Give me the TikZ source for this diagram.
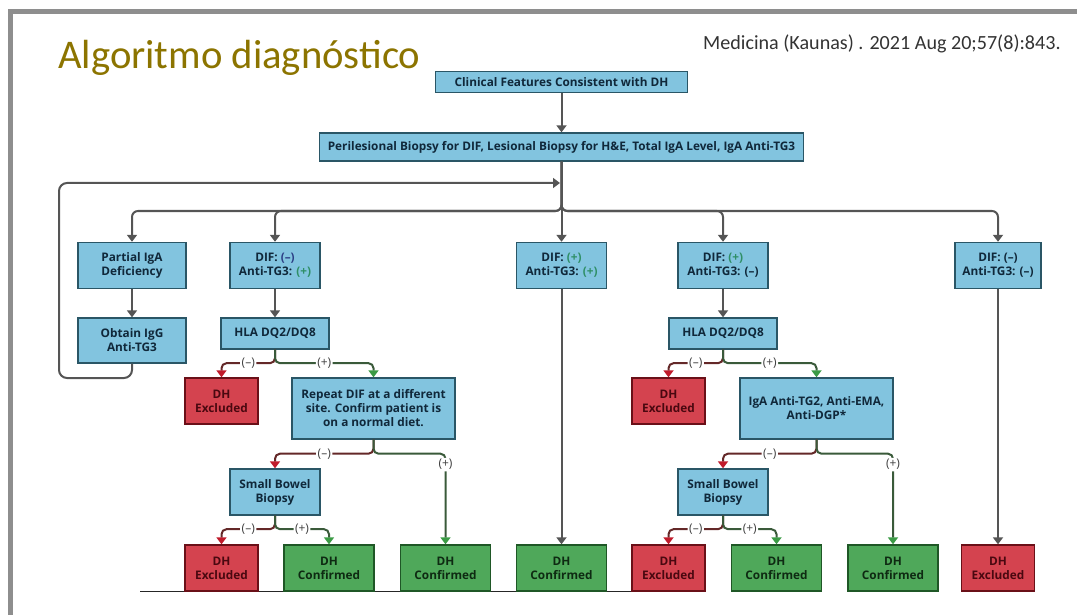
\documentclass[tikz,border=0pt]{standalone}
\usepackage{fontspec}
\setmainfont{Carlito}
\newfontfamily\boxfont{Open Sans}
\usetikzlibrary{arrows.meta, calc}

\definecolor{boxblue}{HTML}{82C4DF}
\definecolor{boxedge}{HTML}{2A5666}
\definecolor{boxtext}{HTML}{10283A}
\definecolor{exclred}{HTML}{D4434F}
\definecolor{excledge}{HTML}{6A1018}
\definecolor{excltext}{HTML}{4A0810}
\definecolor{confgreen}{HTML}{4FA85A}
\definecolor{confedge}{HTML}{1F5726}
\definecolor{conftext}{HTML}{0E2A12}
\definecolor{linegray}{HTML}{555555}
\definecolor{titlegold}{HTML}{8C7400}
\definecolor{framegray}{HTML}{8E8E8E}
\definecolor{tipred}{HTML}{C01B2B}
\definecolor{tipgreen}{HTML}{3B9B45}
\definecolor{minusdark}{HTML}{642828}
\definecolor{plusdark}{HTML}{3A5A3A}
\definecolor{difplus}{HTML}{2F8F66}
\definecolor{difminus}{HTML}{2C3F85}

\tikzset{
    flowbox/.style={draw=boxedge, line width=1.4pt, fill=boxblue, text=boxtext, align=center, inner sep=0pt,
        font=\boxfont\bfseries\fontsize{11.8}{14}\selectfont},
    excl/.style={flowbox, draw=excledge, fill=exclred, text=excltext, minimum width=73pt, minimum height=46pt},
    conf/.style={flowbox, draw=confedge, fill=confgreen, text=conftext, minimum width=90pt, minimum height=46pt},
    arr/.style={draw=linegray, line width=2pt, -{Triangle[width=10pt,length=7pt]}},
    minusline/.style={draw=minusdark, line width=2pt, rounded corners=5pt, -{Triangle[width=10pt,length=7pt,color=tipred]}},
    plusline/.style={draw=plusdark, line width=2pt, rounded corners=5pt, -{Triangle[width=10pt,length=7pt,color=tipgreen]}},
    lbl/.style={fill=white, inner sep=1.5pt, text=black!75, font=\boxfont\fontsize{12}{13}\selectfont}
}

\newcommand{\dif}[2]{DIF: #1\\Anti-TG3: #2}

\begin{document}
\begin{tikzpicture}[x=1pt, y=-1pt]
    \useasboundingbox (0,0) rectangle (1077,615);

    % slide frame and heading
    \draw[framegray, line width=5pt] (10.5,615) -- (10.5,11.5) -- (1077,11.5);
    \node[anchor=base west, inner sep=0pt, text=titlegold, font=\fontsize{40.7}{44}\selectfont] (title) at (58,69) {Algoritmo diagnóstico};
    \node[anchor=base west, inner sep=0pt, text=black!80, font=\fontsize{20.1}{24}\selectfont] (cite) at (703,50) {Medicina (Kaunas) . 2021 Aug 20;57(8):843.};

    \draw[black!85, line width=1.2pt] (140,591.5) -- (651,591.5);

    % top of the tree
    \node[flowbox, minimum width=252pt, minimum height=21pt] (clin) at (561.5,82) {Clinical Features Consistent with DH};
    \node[flowbox, minimum width=484pt, minimum height=28pt] (peri) at (561.5,147) {Perilesional Biopsy for DIF, Lesional Biopsy for H\&E, Total IgA Level, IgA Anti-TG3};

    % first row
    \node[flowbox, minimum width=108pt, minimum height=46pt] (partial) at (132,265.5) {Partial IgA\\Deficiency};
    \node[flowbox, minimum width=90pt, minimum height=46pt] (difA) at (275,265.5) {\dif{\textcolor{difminus}{(–)}}{\textcolor{difplus}{(+)}}};
    \node[flowbox, minimum width=90pt, minimum height=46pt] (difB) at (561.5,265.5) {\dif{\textcolor{difplus}{(+)}}{\textcolor{difplus}{(+)}}};
    \node[flowbox, minimum width=90pt, minimum height=46pt] (difC) at (723,265.5) {\dif{\textcolor{difplus}{(+)}}{(–)}};
    \node[flowbox, minimum width=86pt, minimum height=46pt] (difD) at (998,265.5) {\dif{(–)}{(–)}};

    % second row
    \node[flowbox, minimum width=108pt, minimum height=45pt] (obtain) at (132,340.5) {Obtain IgG\\Anti-TG3};
    \node[flowbox, minimum width=108pt, minimum height=31pt] (hlaA) at (275,333.5) {HLA DQ2/DQ8};
    \node[flowbox, minimum width=108pt, minimum height=31pt] (hlaB) at (723,333.5) {HLA DQ2/DQ8};

    % third row
    \node[excl] (exclA) at (221.5,401) {DH\\Excluded};
    \node[flowbox, minimum width=163pt, minimum height=61pt] (repeat) at (373.5,408.5) {Repeat DIF at a different\\site. Confirm patient is\\on a normal diet.};
    \node[excl] (exclB) at (668.5,401) {DH\\Excluded};
    \node[flowbox, minimum width=153pt, minimum height=61pt] (serol) at (816.5,408.5) {IgA Anti-TG2, Anti-EMA,\\Anti-DGP*};

    % biopsies
    \node[flowbox, minimum width=90pt, minimum height=46pt] (bowelA) at (275,492) {Small Bowel\\Biopsy};
    \node[flowbox, minimum width=90pt, minimum height=46pt] (bowelB) at (723,492) {Small Bowel\\Biopsy};

    % outcomes
    \node[excl] (resA) at (221.5,568) {DH\\Excluded};
    \node[conf] (resB) at (329,568) {DH\\Confirmed};
    \node[conf] (resC) at (445.5,568) {DH\\Confirmed};
    \node[conf] (resD) at (561.5,568) {DH\\Confirmed};
    \node[excl] (resE) at (668.5,568) {DH\\Excluded};
    \node[conf] (resF) at (776.5,568) {DH\\Confirmed};
    \node[conf] (resG) at (893,568) {DH\\Confirmed};
    \node[excl] (resH) at (998,568) {DH\\Excluded};

    % spine and bus
    \coordinate (bus) at (0,211);
    \coordinate (back) at (59,378);
    \coordinate (loopin) at (560,183);
    \draw[arr] (clin.south) -- (peri.north);
    \draw[arr] (peri.south) -- (difB.north);
    \foreach \n in {partial, difA, difC, difD} {
        \draw[arr, rounded corners=6pt] (peri.south) |- (\n.north |- bus) -- (\n.north);
    }
    \draw[arr, rounded corners=8pt] (obtain.south) |- (back) |- (loopin);

    \draw[arr] (partial) -- (obtain);
    \draw[arr] (difA) -- (hlaA);
    \draw[arr] (difC) -- (hlaB);
    \draw[arr] (difB) -- (resD);
    \draw[arr] (difD) -- (resH);

    % (-)/(+) splits
    \foreach \s/\m/\p in {hlaA/exclA/repeat, hlaB/exclB/serol, bowelA/resA/resB, bowelB/resE/resF} {
        \draw[minusline] (\s.south) -- ++(0,13.5) -| node[lbl, pos=.25] {(–)} (\m.north);
        \draw[plusline] (\s.south) -- ++(0,13.5) -| node[lbl, pos=.25] {(+)} (\p.north);
    }
    \foreach \s/\m/\p in {repeat/bowelA/resC, serol/bowelB/resG} {
        \draw[minusline] (\s.south) -- ++(0,14) -| node[lbl, pos=.25] {(–)} (\m.north);
        \draw[plusline] (\s.south) -- ++(0,14) -| node[lbl, pos=.56] {(+)} (\p.north);
    }
\end{tikzpicture}
\end{document}
